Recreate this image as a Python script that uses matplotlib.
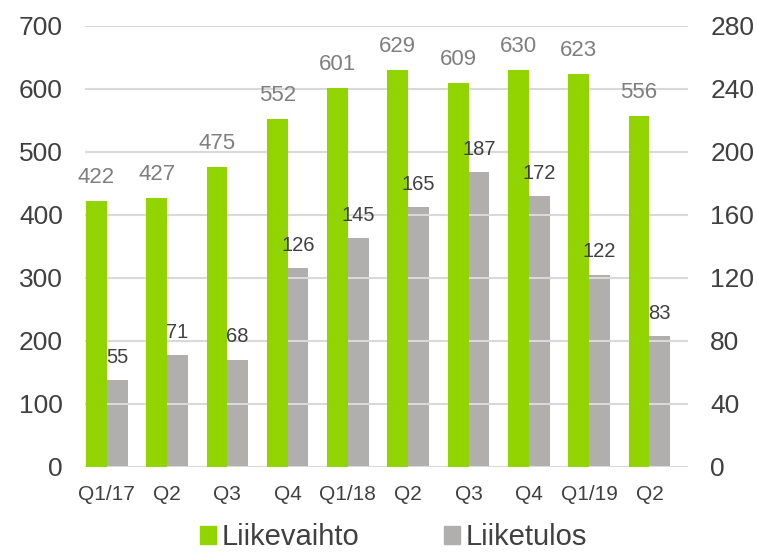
import numpy as np
import matplotlib.pyplot as plt
from matplotlib.patches import Patch

plt.rcParams['font.family'] = ['Liberation Sans', 'DejaVu Sans']

quarters = ["Q1/17", "Q2", "Q3", "Q4", "Q1/18", "Q2", "Q3", "Q4", "Q1/19", "Q2"]
liikevaihto = [422, 427, 475, 552, 601, 629, 609, 630, 623, 556]
liiketulos = [55, 71, 68, 126, 145, 165, 187, 172, 122, 83]

green = "#92d400"
grey = "#b0afad"
text_col = "#404040"

fig = plt.figure(figsize=(7.57, 5.55), dpi=100)
ax = fig.add_axes([0.1123, 0.159, 0.7966, 0.7947])
ax2 = ax.twinx()

x = np.arange(len(quarters))
w = 0.345

ax.bar(x - w / 2, liikevaihto, w, color=green, zorder=3)
ax2.bar(x + w / 2, liiketulos, w, color=grey, zorder=3)

for xi, v in zip(x, liikevaihto):
    ax.annotate(str(v), (xi - w / 2, v), xytext=(0, 9.5), textcoords="offset points",
                ha="center", va="bottom", fontsize=16, color="#7f7f7f", zorder=5)
# grey labels drawn on the top axes so the green bars don't hide them
for xi, v in zip(x, liiketulos):
    ax.annotate(str(v), (xi + w / 2, v), xycoords=ax2.transData,
                xytext=(0, 9.5), textcoords="offset points",
                ha="center", va="bottom", fontsize=14.5, color=text_col, zorder=5)

ax.set_xlim(-0.36, 9.64)
ax.set_ylim(0, 700)
ax2.set_ylim(0, 280)
ax.set_yticks(np.arange(0, 701, 100))
ax2.set_yticks(np.arange(0, 281, 40))

ax.set_xticks(x)
ax.set_xticklabels(quarters)

ax.grid(axis="y", color="#d9d9d9", linewidth=1.5, zorder=0)
ax.set_axisbelow(True)
ax.set_zorder(ax2.get_zorder() + 1)
ax.patch.set_visible(False)

for a in (ax, ax2):
    for s in a.spines.values():
        s.set_visible(False)
ax.tick_params(axis="y", length=0, pad=16, labelsize=19, labelcolor=text_col)
ax2.tick_params(axis="y", length=0, pad=16, labelsize=19, labelcolor=text_col)
ax.tick_params(axis="x", length=0, pad=13, labelsize=15, labelcolor=text_col)

handles = [Patch(color=green, label="Liikevaihto"), Patch(color=grey, label="Liiketulos")]
fig.legend(handles=handles, loc="center", bbox_to_anchor=(0.52, 0.032), ncol=2,
           frameon=False, fontsize=21, handlelength=0.55, handleheight=0.55,
           handletextpad=0.2, columnspacing=2.9, labelcolor=text_col,
           borderpad=0.1)

fig.savefig("out.png", dpi=100)
